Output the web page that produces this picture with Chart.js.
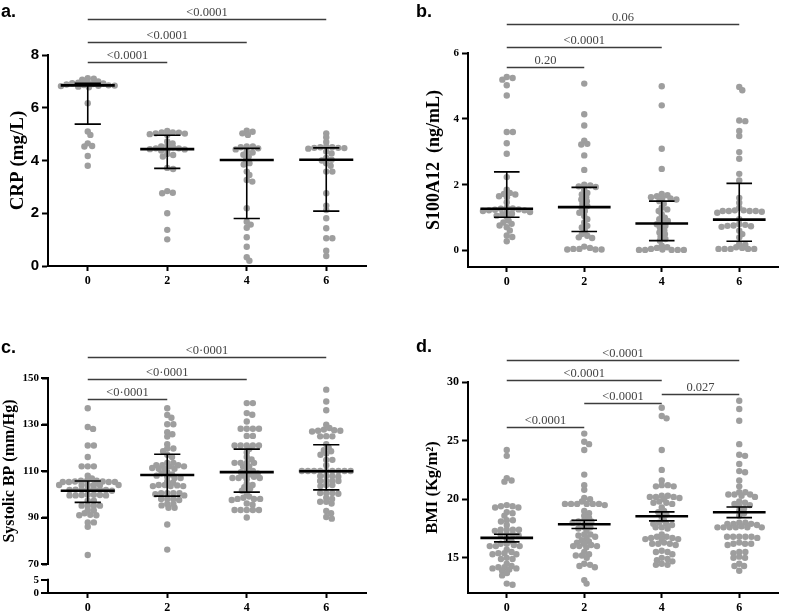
<!DOCTYPE html>
<html><head><meta charset="utf-8">
<script src="https://cdn.jsdelivr.net/npm/chart.js@4.4.1/dist/chart.umd.min.js"></script>
<style>
html,body{margin:0;padding:0;background:#fff;}
#wrap{position:relative;width:787px;height:614px;overflow:hidden;background:#fff;}
canvas{position:absolute;}
.axseg{position:absolute;background:#000;pointer-events:none;}
</style></head><body>
<div id="wrap">
<canvas id="ca" width="390" height="300" style="left:0;top:0"></canvas>
<canvas id="cb" width="397" height="300" style="left:390px;top:0"></canvas>
<canvas id="cc" width="390" height="314" style="left:0;top:300px"></canvas>
<canvas id="cd" width="397" height="314" style="left:390px;top:300px"></canvas>
</div>
<script>
// ---- categories (weeks) ----
const weeks = [0, 2, 4, 6];
const weekLabels = ['0', '2', '4', '6'];

// ---- a. CRP (mg/L) ----
const crp0 = [7.12,7.10,7.06,7.00,6.97,6.95,6.93,6.92,6.90,6.88,6.86,6.85,6.84,6.83,6.82,6.80,6.78,6.17,5.10,4.97,4.65,4.55,4.53,4.17,3.80];
const crp2 = [5.12,5.06,5.06,5.05,5.03,5.02,5.00,4.97,4.72,4.65,4.55,4.53,4.50,4.46,4.46,4.43,4.42,4.40,4.38,4.25,4.21,4.15,3.72,3.68,2.84,2.78,2.76,2.00,1.37,1.01];
const crp4 = [5.13,5.09,5.03,4.97,4.53,4.53,4.50,4.46,4.42,4.34,4.30,4.22,4.15,4.02,3.90,3.85,3.58,3.45,3.26,3.20,2.19,1.68,1.57,1.45,1.09,0.73,0.33,0.20];
const crp6 = [5.03,4.88,4.70,4.53,4.50,4.50,4.48,4.48,4.47,4.45,4.34,4.27,4.10,4.03,4.00,3.90,3.80,3.58,3.58,2.76,2.29,2.12,1.81,1.43,1.05,1.05,0.58,0.38];
const crpMedian = [6.85, 4.43, 4.02, 4.03];
const crpQ1 = [5.38, 3.70, 1.80, 2.08];
const crpQ3 = [6.93, 4.96, 4.46, 4.48];
const crpBrFrom = [0, 0, 0];
const crpBrTo = [2, 4, 6];
const crpBrLevel = [7.73, 8.49, 9.36];
const crpBrText = ['<0.0001', '<0.0001', '<0.0001'];
const crpTicks = [0, 2, 4, 6, 8];

// ---- b. S100A12 (ng/mL) ----
const s0 = [5.27,5.24,5.19,5.02,4.71,3.60,3.60,3.26,2.94,2.23,1.85,1.75,1.72,1.70,1.65,1.62,1.47,1.30,1.28,1.27,1.25,1.24,1.22,1.22,1.20,1.18,1.17,1.12,1.10,1.06,1.02,0.91,0.85,0.81,0.76,0.71,0.61,0.46,0.41,0.28];
const s2 = [5.07,4.14,3.80,3.34,3.24,3.22,2.89,2.45,2.00,1.98,1.95,1.93,1.85,1.75,1.70,1.62,1.55,1.50,1.42,1.35,1.30,1.20,1.15,1.05,0.95,0.85,0.75,0.70,0.60,0.50,0.45,0.40,0.38,0.12,0.08,0.05,0.03,0.03,0.03,0.05];
const s4 = [4.99,4.41,3.09,2.48,1.72,1.68,1.65,1.62,1.60,1.58,1.55,1.50,1.42,1.30,1.25,1.20,1.10,1.00,0.95,0.90,0.85,0.80,0.75,0.70,0.62,0.55,0.50,0.42,0.35,0.30,0.15,0.08,0.03,0.02,0.02,0.02,0.02,0.02,0.05,0.10];
const s6 = [4.97,4.87,3.95,3.93,3.63,3.48,2.99,2.79,2.33,2.13,1.60,1.45,1.30,1.22,1.20,1.20,1.20,1.18,1.20,1.22,1.15,0.95,0.80,0.78,0.76,0.75,0.74,0.72,0.60,0.50,0.40,0.20,0.18,0.05,0.05,0.05,0.05,0.05,0.08,0.10];
const sMedian = [1.27, 1.32, 0.82, 0.94];
const sQ1 = [1.01, 0.58, 0.30, 0.28];
const sQ3 = [2.39, 1.92, 1.50, 2.04];
const sBrFrom = [0, 0, 0];
const sBrTo = [2, 4, 6];
const sBrLevel = [5.57, 6.18, 6.88];
const sBrText = ['0.20', '<0.0001', '0.06'];
const sTicks = [0, 2, 4, 6];

// ---- c. Systolic BP (mm/Hg) ----
const bp0 = [137.0,128.9,128.1,121.0,121.0,116.0,112.0,112.0,112.0,108.0,106.8,105.8,105.3,105.3,105.5,105.8,105.3,105.3,105.5,105.8,104.0,104.0,104.0,104.0,104.0,104.0,102.2,102.2,102.0,102.0,102.0,101.8,101.8,101.5,99.8,99.8,99.7,99.5,99.5,99.5,99.7,97.2,97.2,95.1,95.1,95.1,95.1,93.2,93.0,91.0,91.0,91.2,91.8,87.9,87.9,86.0,73.9];
const bp2 = [137.0,134.1,132.9,130.1,130.1,126.7,125.8,124.8,121.5,119.7,119.7,118.5,117.0,116.0,113.5,112.5,112.0,112.5,112.0,112.5,113.5,111.0,111.3,111.0,111.0,109.5,109.0,108.5,107.0,107.5,107.0,108.0,105.5,105.0,103.5,103.5,104.0,103.8,103.5,104.0,100.5,100.5,100.5,100.0,100.5,99.5,98.0,98.0,98.0,97.5,95.8,95.2,94.2,94.2,95.8,87.0,76.2];
const bp4 = [139.2,139.2,134.9,134.2,131.3,128.2,128.2,128.2,128.2,125.1,125.1,121.0,121.0,121.0,121.0,121.0,119.5,118.0,116.0,115.0,113.5,113.5,113.5,113.5,112.0,111.9,110.0,110.0,109.5,109.0,108.5,108.0,107.5,107.0,107.0,107.0,106.5,104.5,104.0,103.0,102.5,101.5,100.5,99.0,98.5,98.0,98.0,98.0,97.5,96.0,95.5,93.2,93.2,93.2,93.2,93.2,90.0];
const bp6 = [145.0,139.9,136.1,129.9,128.5,127.5,127.3,127.3,127.8,127.0,125.0,124.9,124.9,121.5,120.0,119.0,118.5,117.5,117.0,114.8,114.8,112.5,110.0,110.0,110.0,110.0,110.0,110.0,110.0,110.0,110.0,108.0,107.8,107.5,107.8,105.7,105.7,105.7,105.7,104.0,104.0,103.5,100.5,100.5,100.2,100.5,98.5,98.0,96.8,96.0,96.8,91.8,92.8,89.5,90.2];
const bpMedian = [101.5, 108.3, 109.5, 109.9];
const bpQ1 = [96.5, 99.2, 100.9, 101.9];
const bpQ3 = [105.7, 117.2, 119.4, 121.3];
const bpBrFrom = [0, 0, 0];
const bpBrTo = [2, 4, 6];
const bpBrLevel = [141.1, 149.7, 159.2];
const bpBrText = ['<0\u00b70001', '<0\u00b70001', '<0\u00b70001'];
const bpTicks = [70, 90, 110, 130, 150];
const bpLowTicks = [0, 5];

// ---- d. BMI (Kg/m2) ----
const bmi0 = [24.2,23.7,21.8,21.6,21.5,19.5,19.4,19.4,19.3,19.3,18.9,18.8,18.6,18.2,18.2,18.1,17.8,17.4,17.4,17.4,17.4,17.3,17.0,17.0,17.0,16.9,16.6,16.4,16.2,16.2,16.1,16.0,16.0,16.0,15.7,15.5,15.4,15.4,15.3,15.3,15.0,14.9,14.9,14.5,14.3,14.2,14.2,14.1,14.1,14.0,13.9,13.7,13.5,12.8,12.7];
const bmi2 = [25.6,24.9,24.7,24.2,22.1,21.2,20.8,20.1,20.0,19.8,19.6,19.6,19.6,19.6,19.6,19.6,19.5,19.0,18.8,18.6,18.4,18.2,18.1,18.1,18.0,17.9,17.6,17.6,17.5,17.3,17.0,17.0,16.9,16.8,16.7,16.5,16.4,16.3,16.2,16.1,16.0,16.0,16.0,15.9,15.5,15.3,15.2,15.2,15.0,14.5,14.4,14.3,14.2,13.1,12.8];
const bmi4 = [27.8,27.1,26.9,24.2,22.5,21.6,21.2,21.1,21.1,21.2,20.3,20.2,20.1,20.2,20.3,20.2,20.0,19.8,19.7,19.7,19.6,19.3,19.0,18.9,18.7,18.5,18.2,18.0,17.9,17.8,17.9,17.6,17.6,17.5,17.0,16.8,16.8,16.7,16.6,16.6,16.6,16.7,16.3,16.2,16.2,16.1,16.2,15.6,15.5,15.5,15.3,15.0,14.9,14.8,14.5,14.4,14.4,14.7];
const bmi6 = [28.4,27.7,26.7,24.7,23.8,23.7,23.0,22.4,22.3,21.6,21.1,20.6,20.4,20.3,20.2,20.4,20.4,20.6,19.8,19.7,19.6,19.5,19.4,19.2,19.0,18.8,18.6,18.0,17.9,17.9,18.0,17.9,17.8,17.6,17.6,17.7,17.6,17.6,17.6,17.6,16.8,16.8,16.8,16.8,16.8,16.7,16.2,16.3,16.2,16.2,16.1,15.5,15.4,15.5,15.0,15.0,15.1,14.5,14.3,14.3,13.9];
const bmiMean = [16.70, 17.87, 18.55, 18.89];
const bmiLow = [16.36, 17.50, 18.15, 18.43];
const bmiHigh = [17.01, 18.21, 18.92, 19.34];
const bmiBrFrom = [0, 2, 4, 0, 0];
const bmiBrTo = [2, 4, 6, 4, 6];
const bmiBrLevel = [26.2, 28.2, 29.0, 30.15, 31.85];
const bmiBrText = ['<0.0001', '<0.0001', '0.027', '<0.0001', '<0.0001'];
const bmiTicks = [15, 20, 25, 30];

// ---------- helpers ----------
const SERIF = '"Liberation Serif", "Times New Roman", serif';
const SANS = '"Liberation Sans", Arial, sans-serif';

function centerLine(center, half) {
  const d = [];
  weeks.forEach((w, i) => { d.push({x: w - half, y: center[i]}, {x: w + half, y: center[i]}, {x: w, y: null}); });
  return d;
}
function whiskers(lo, hi, half) {
  const d = [];
  weeks.forEach((w, i) => {
    d.push({x: w - half, y: lo[i]}, {x: w + half, y: lo[i]}, {x: w, y: null});
    d.push({x: w, y: lo[i]}, {x: w, y: hi[i]}, {x: w, y: null});
    d.push({x: w - half, y: hi[i]}, {x: w + half, y: hi[i]}, {x: w, y: null});
  });
  return d;
}

const bracketPlugin = {
  id: 'brackets',
  afterDraw(chart, args, o) {
    const ctx = chart.ctx, xs = chart.scales.x, ys = chart.scales.y;
    ctx.save();
    ctx.strokeStyle = '#3c3c3c'; ctx.fillStyle = '#444'; ctx.lineWidth = 1.3;
    ctx.font = '12.5px ' + SERIF; ctx.textAlign = 'center'; ctx.textBaseline = 'alphabetic';
    o.from.forEach((f, i) => {
      const x1 = xs.getPixelForValue(f), x2 = xs.getPixelForValue(o.to[i]);
      const yy = Math.round(ys.getPixelForValue(o.level[i])) + 0.5;
      ctx.beginPath(); ctx.moveTo(x1, yy); ctx.lineTo(x2, yy); ctx.stroke();
      ctx.fillText(o.text[i], (x1 + x2) / 2, yy - 4);
    });
    ctx.fillStyle = '#000'; ctx.textAlign = 'left';
    ctx.font = 'bold 18px ' + SANS;
    ctx.fillText(o.letter, o.letterX, o.letterY);
    ctx.restore();
    if (o.lowAxis && chart.scales.y2) {
      const s = chart.scales.y2, L = chart.chartArea.left;
      const mt = o.mainTicks, lt = o.lowAxis;
      ctx.save();
      ctx.strokeStyle = '#000'; ctx.lineWidth = 2;
      ctx.beginPath(); ctx.moveTo(L, ys.getPixelForValue(mt[mt.length - 1]) - 1); ctx.lineTo(L, ys.getPixelForValue(mt[0]) + 1); ctx.stroke();
      ctx.beginPath(); ctx.moveTo(L, s.getPixelForValue(lt[lt.length - 1]) - 1); ctx.lineTo(L, s.getPixelForValue(lt[0]) + 1); ctx.stroke();
      mt.forEach(v => { const y = Math.round(ys.getPixelForValue(v)); ctx.beginPath(); ctx.moveTo(L - 7, y); ctx.lineTo(L, y); ctx.stroke(); });
      lt.forEach(v => { const y = Math.round(s.getPixelForValue(v)); ctx.beginPath(); ctx.moveTo(L - 7, y); ctx.lineTo(L, y); ctx.stroke(); });
      ctx.restore();
    }
  }
};

function makePanel(id, p) {
  const pts = [];
  p.series.forEach((vals, gi) => vals.forEach(v => pts.push({x: weeks[gi], y: v})));
  const broken = !!p.lowTicks;
  const yScale = {
    type: 'linear', position: 'left', min: p.yMin, max: p.yMax,
    afterBuildTicks: s => { s.ticks = p.yTicks.map(v => ({value: v})); },
    afterFit: s => { s.width = p.yWidth; },
    border: {display: true, color: '#000', width: 2},
    grid: {drawOnChartArea: false, drawTicks: true, tickLength: 6, tickWidth: 2, tickColor: '#000'},
    ticks: {color: '#000', padding: 3, font: p.yTickFont, autoSkip: false},
    title: {display: true, text: p.yTitle, color: '#000', font: {family: SERIF, size: p.titleSize, weight: 'bold'}, padding: {top: p.titlePad, bottom: 0}}
  };
  const scales = {
    x: {
      type: 'linear', position: 'bottom', min: -1, max: 7,
      afterBuildTicks: s => { s.ticks = weeks.map(v => ({value: v})); },
      afterFit: s => { s.height = p.xHeight; },
      border: {display: true, color: '#000', width: 2},
      grid: {drawOnChartArea: false, drawTicks: true, tickLength: 5, tickWidth: 2, tickColor: '#000'},
      ticks: {color: '#000', padding: 3, font: {family: SERIF, size: 12, weight: 'bold'},
        callback: (v) => weekLabels[weeks.indexOf(v)]}
    }
  };
  if (broken) {
    scales.y2 = {
      type: 'linear', position: 'left', min: 0, max: p.lowMax, stack: 'c', stackWeight: p.lowWeight,
      afterBuildTicks: s => { s.ticks = p.lowTicks.map(v => ({value: v})); },
      afterFit: s => { s.width = p.yWidth; },
      border: {display: false},
      grid: {drawOnChartArea: false, drawTicks: false},
      ticks: {color: '#000', padding: 9, font: p.yTickFont, autoSkip: false}
    };
    yScale.stack = 'c'; yScale.stackWeight = p.mainWeight;
  }
  scales.y = yScale;
  const datasets = [
    {type: 'line', xAxisID: 'x', yAxisID: 'y', data: centerLine(p.center, 0.68), borderColor: '#000', borderWidth: 2.6, pointRadius: 0, spanGaps: false, fill: false, tension: 0, order: 0},
    {type: 'line', xAxisID: 'x', yAxisID: 'y', data: whiskers(p.lo, p.hi, 0.33), borderColor: '#000', borderWidth: 1.6, pointRadius: 0, spanGaps: false, fill: false, tension: 0, order: 1},
    {type: 'scatter', xAxisID: 'x', yAxisID: 'y', data: pts, pointRadius: 3.2, pointBackgroundColor: '#9e9e9e', pointBorderWidth: 0, order: 5}
  ];
  const chart = new Chart(document.getElementById(id), {
    type: 'scatter',
    data: {datasets: datasets},
    options: {
      responsive: false, animation: false, maintainAspectRatio: false,
      layout: {padding: {top: p.padTop, right: p.padRight, left: 0, bottom: 0}},
      scales: scales,
      plugins: {legend: {display: false}, tooltip: {enabled: false},
        brackets: {from: p.brFrom, to: p.brTo, level: p.brLevel, text: p.brText, lowAxis: p.lowTicks, mainTicks: p.yTicks,
          letter: p.letter, letterX: p.letterX, letterY: p.letterY}}
    },
    plugins: [bracketPlugin]
  });
  // swarm offsets computed through the chart's own scales
  const xs = chart.scales.x, ys = chart.scales.y;
  const ppu = xs.getPixelForValue(1) - xs.getPixelForValue(0);
  const DX = 6.1, DY = 3.8;
  const out = [];
  p.series.forEach((vals, gi) => {
    const order = vals.map((v, i) => i).sort((a, b) => vals[b] - vals[a]);
    const placed = []; const off = new Array(vals.length);
    for (const i of order) {
      const py = ys.getPixelForValue(vals[i]);
      const cands = [0];
      for (const q of placed) {
        const dy = py - q.y;
        if (Math.abs(dy) < DY) { const dx = DX * Math.sqrt(1 - (dy / DY) * (dy / DY)); cands.push(q.x + dx, q.x - dx); }
      }
      cands.sort((a, b) => Math.abs(a) - Math.abs(b));
      let c0 = 0;
      for (const c of cands) {
        if (placed.every(q => ((q.x - c) / DX) ** 2 + ((q.y - py) / DY) ** 2 >= 0.999)) { c0 = c; break; }
      }
      placed.push({x: c0, y: py}); off[i] = c0;
    }
    vals.forEach((v, k) => out.push({x: weeks[gi] + off[k] / ppu, y: v}));
  });
  chart.data.datasets[2].data = out;
  chart.update('none');

  // fallback overlay for the broken axis' upper segment, placed from the chart's own scale
  if (broken) {
    const cv = chart.canvas, wrap = document.getElementById('wrap');
    const L = chart.chartArea.left, ox = cv.offsetLeft, oy = cv.offsetTop;
    const yT = ys.getPixelForValue(p.yTicks[p.yTicks.length - 1]), yB = ys.getPixelForValue(p.yTicks[0]);
    const seg = (x, y, w, h) => { const d = document.createElement('div'); d.className = 'axseg';
      d.style.left = (ox + x) + 'px'; d.style.top = (oy + y) + 'px'; d.style.width = w + 'px'; d.style.height = h + 'px'; wrap.appendChild(d); };
    seg(L - 1, yT - 1, 2, yB - yT + 2);
    p.yTicks.forEach(v => { const y = Math.round(ys.getPixelForValue(v)); seg(L - 7, y - 1, 7, 2); });
  }
  return chart;
}

makePanel('ca', {
  series: [crp0, crp2, crp4, crp6], center: crpMedian, lo: crpQ1, hi: crpQ3,
  yMin: 0, yMax: 8, yTicks: crpTicks, yTitle: 'CRP (mg/L)', titleSize: 19, titlePad: 7,
  yTickFont: {family: SANS, size: 15, weight: 'bold'}, yWidth: 48, xHeight: 34, padTop: 55, padRight: 24,
  brFrom: crpBrFrom, brTo: crpBrTo, brLevel: crpBrLevel, brText: crpBrText,
  letter: 'a.', letterX: 1, letterY: 17
});
makePanel('cb', {
  series: [s0, s2, s4, s6], center: sMedian, lo: sQ1, hi: sQ3,
  yMin: -0.5, yMax: 6, yTicks: sTicks, yTitle: 'S100A12  (ng/mL)', titleSize: 18, titlePad: 34,
  yTickFont: {family: SERIF, size: 11, weight: 'bold'}, yWidth: 78, xHeight: 33, padTop: 53, padRight: 9,
  brFrom: sBrFrom, brTo: sBrTo, brLevel: sBrLevel, brText: sBrText,
  letter: 'b.', letterX: 26, letterY: 17
});
makePanel('cc', {
  series: [bp0, bp2, bp4, bp6], center: bpMedian, lo: bpQ1, hi: bpQ3,
  yMin: 70, yMax: 150, yTicks: bpTicks, yTitle: 'Systolic BP (mm/Hg)', titleSize: 16, titlePad: 0,
  yTickFont: {family: SERIF, size: 11, weight: 'bold'}, yWidth: 48, xHeight: 21, padTop: 78, padRight: 24,
  lowTicks: bpLowTicks, lowMax: 11, lowWeight: 29, mainWeight: 186,
  brFrom: bpBrFrom, brTo: bpBrTo, brLevel: bpBrLevel, brText: bpBrText,
  letter: 'c.', letterX: 1, letterY: 53
});
makePanel('cd', {
  series: [bmi0, bmi2, bmi4, bmi6], center: bmiMean, lo: bmiLow, hi: bmiHigh,
  yMin: 12, yMax: 30, yTicks: bmiTicks, yTitle: 'BMI (Kg/m\u00b2)', titleSize: 16.5, titlePad: 33,
  yTickFont: {family: SERIF, size: 12, weight: 'bold'}, yWidth: 78, xHeight: 21, padTop: 82, padRight: 9,
  brFrom: bmiBrFrom, brTo: bmiBrTo, brLevel: bmiBrLevel, brText: bmiBrText,
  letter: 'd.', letterX: 26, letterY: 52
});
</script>
</body></html>
